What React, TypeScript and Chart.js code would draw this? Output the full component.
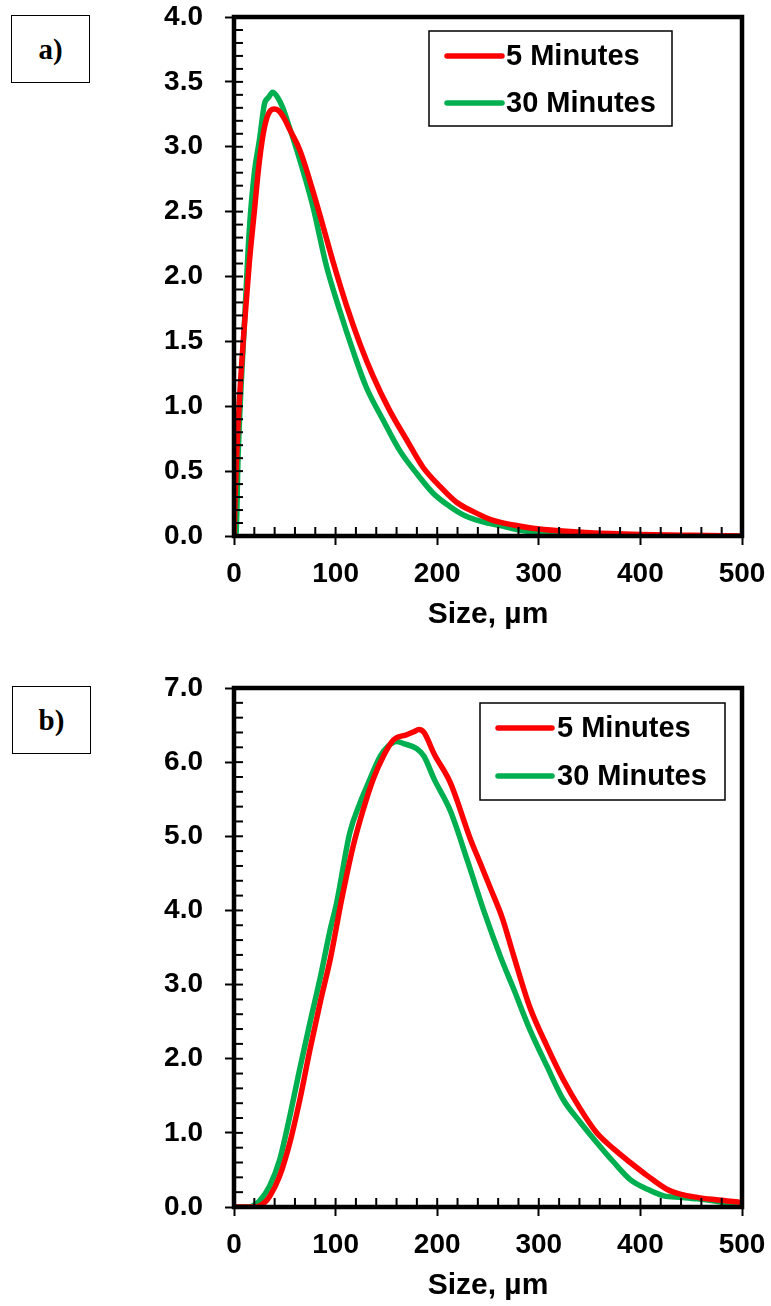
import React, { useEffect, useRef } from "react";
import { Chart, registerables } from "chart.js";

Chart.register(...registerables);

// ---------- shared text ----------
const seriesLabels = ["5 Minutes", "30 Minutes"];
const seriesColors = ["#FF0000", "#00B050"];
const axisTitle = "Size, µm";
const panelLabels = ["a)", "b)"];
const xTickMin = 0;
const xTickMax = 500;
const xTickStep = 100;

// ---------- panel a ----------
const aRedSize = [0, 2, 5, 10, 15, 20, 25, 30, 35, 40, 45, 50, 55, 65, 81, 98, 111, 124, 137, 153, 170, 186, 203, 219, 235, 255, 275, 294, 320, 350, 400, 450, 500];
const aRedValue = [0, 0.5, 1.0, 1.6, 2.1, 2.5, 2.89, 3.15, 3.27, 3.29, 3.27, 3.21, 3.13, 2.97, 2.57, 2.1, 1.77, 1.48, 1.23, 0.97, 0.74, 0.53, 0.38, 0.26, 0.19, 0.12, 0.085, 0.06, 0.04, 0.025, 0.012, 0.005, 0.0];
const aGreenSize = [0, 2, 4, 7, 10, 15, 20, 25, 30, 34, 38, 43, 48, 55, 62, 70, 78, 91, 104, 117, 130, 147, 163, 180, 196, 212, 229, 245, 262, 278, 294, 320, 350, 400, 450, 500];
const aGreenValue = [0, 0.02, 0.6, 1.16, 1.6, 2.35, 2.8, 3.05, 3.33, 3.38, 3.42, 3.38, 3.3, 3.14, 2.97, 2.76, 2.53, 2.08, 1.74, 1.43, 1.15, 0.89, 0.66, 0.48, 0.33, 0.23, 0.15, 0.11, 0.08, 0.05, 0.03, 0.015, 0.006, 0.002, 0.0, 0.0];
const aYMax = 4;
const aYStep = 0.5;
const aYMinor = 0.1;

// ---------- panel b ----------
const bRedSize = [0, 10, 20, 30, 35, 45, 55, 65, 75, 85, 95, 106, 117, 127, 137, 147, 157, 170, 177, 182, 187, 197, 213, 233, 242, 253, 264, 275, 291, 308, 324, 341, 357, 374, 390, 407, 426, 440, 456, 473, 500];
const bRedValue = [0, 0, 0, 0.06, 0.14, 0.42, 0.87, 1.46, 2.14, 2.77, 3.36, 4.15, 4.85, 5.35, 5.77, 6.08, 6.3, 6.37, 6.41, 6.44, 6.4, 6.11, 5.72, 4.95, 4.65, 4.28, 3.9, 3.4, 2.7, 2.17, 1.72, 1.32, 1.0, 0.78, 0.6, 0.42, 0.24, 0.17, 0.13, 0.1, 0.06];
const bGreenSize = [0, 5, 10, 15, 20, 25, 35, 45, 55, 65, 75, 85, 95, 101, 114, 124, 131, 144, 152, 160, 167, 180, 187, 197, 213, 230, 246, 263, 275, 291, 308, 324, 341, 357, 374, 390, 407, 423, 440, 456, 473, 490, 500];
const bGreenValue = [0, 0, 0, 0, 0.03, 0.08, 0.28, 0.64, 1.23, 1.88, 2.5, 3.1, 3.76, 4.1, 5.05, 5.45, 5.68, 6.08, 6.22, 6.28, 6.25, 6.18, 6.08, 5.77, 5.34, 4.66, 3.99, 3.35, 2.95, 2.4, 1.9, 1.45, 1.14, 0.87, 0.6, 0.37, 0.24, 0.15, 0.13, 0.11, 0.08, 0.04, 0.01];
const bYMax = 7;
const bYStep = 1;
const bYMinor = 0.2;

const FONT = '"Liberation Sans", Arial, sans-serif';
const CANVAS_W = 771;
const CANVAS_H = 653;

const toPoints = (xs: number[], ys: number[]) => xs.map((x, i) => ({ x, y: ys[i] }));

const decorPlugin = {
  id: "decor",
  afterDatasetsDraw(chart: any, _args: any, opts: any) {
    const { ctx, chartArea } = chart;
    const { left, right, top, bottom } = chartArea;
    const xs = chart.scales.x;
    const ys = chart.scales.y;
    ctx.save();
    ctx.strokeStyle = "#000";
    ctx.lineWidth = 2;
    // minor ticks (inside)
    const nx = Math.round((xs.max - xs.min) / opts.xMinor);
    for (let i = 1; i < nx; i++) {
      const v = xs.min + i * opts.xMinor;
      const px = xs.getPixelForValue(v);
      ctx.beginPath();
      ctx.moveTo(px, bottom);
      ctx.lineTo(px, bottom - 9);
      ctx.stroke();
    }
    const ny = Math.round((ys.max - ys.min) / opts.yMinor);
    for (let i = 1; i < ny; i++) {
      const v = ys.min + i * opts.yMinor;
      const py = ys.getPixelForValue(v);
      ctx.beginPath();
      ctx.moveTo(left, py);
      ctx.lineTo(left + 9, py);
      ctx.stroke();
    }
    // frame
    ctx.lineWidth = 4.5;
    ctx.strokeRect(left, top, right - left, bottom - top);

    // legend
    const lg = opts.legend;
    const bx = right - lg.rightGap - lg.width;
    const by = top + lg.topGap;
    ctx.fillStyle = "#fff";
    ctx.fillRect(bx, by, lg.width, lg.height);
    ctx.lineWidth = 1.5;
    ctx.strokeStyle = "#000";
    ctx.strokeRect(bx, by, lg.width, lg.height);
    chart.data.datasets.forEach((ds: any, i: number) => {
      const ry = by + lg.rows[i];
      ctx.strokeStyle = ds.borderColor;
      ctx.lineWidth = 5.5;
      ctx.lineCap = "round";
      ctx.beginPath();
      ctx.moveTo(bx + lg.lineStart, ry);
      ctx.lineTo(bx + lg.lineEnd, ry);
      ctx.stroke();
      ctx.fillStyle = "#000";
      ctx.font = `bold 29px ${FONT}`;
      ctx.textBaseline = "middle";
      ctx.textAlign = "left";
      ctx.fillText(ds.label, bx + lg.textStart, ry + 1);
    });
    ctx.restore();
  },
};

type PanelProps = {
  redX: number[];
  redY: number[];
  greenX: number[];
  greenY: number[];
  yMax: number;
  yStep: number;
  yMinor: number;
  padTop: number;
  xAxisHeight: number;
  titlePad: number;
  legend: any;
};

const zeroPadding = (s: any) => {
  s.paddingTop = 0;
  s.paddingBottom = 0;
  s.paddingLeft = 0;
  s.paddingRight = 0;
};

function Panel(p: PanelProps) {
  const ref = useRef<HTMLCanvasElement | null>(null);
  useEffect(() => {
    if (!ref.current) return;
    const lineDs = (i: number, xs: number[], ys: number[]) => ({
      label: seriesLabels[i],
      data: toPoints(xs, ys),
      borderColor: seriesColors[i],
      backgroundColor: seriesColors[i],
      borderWidth: 5.5,
      pointRadius: 0,
      cubicInterpolationMode: "monotone",
      borderJoinStyle: "round",
      borderCapStyle: "round",
    });
    const chart = new Chart(ref.current, {
      type: "line",
      data: {
        datasets: [lineDs(0, p.redX, p.redY), lineDs(1, p.greenX, p.greenY)],
      },
      options: {
        animation: false,
        responsive: false,
        events: [],
        layout: { padding: { top: p.padTop, right: 29, left: 0, bottom: 0 } },
        plugins: {
          legend: { display: false },
          tooltip: { enabled: false },
          decor: {
            xMinor: 20,
            yMinor: p.yMinor,
            legend: p.legend,
          },
        } as any,
        scales: {
          x: {
            type: "linear",
            min: xTickMin,
            max: xTickMax,
            border: { display: false },
            grid: {
              drawOnChartArea: false,
              drawTicks: true,
              tickLength: 9,
              tickWidth: 2,
              tickColor: "#000",
            },
            ticks: {
              stepSize: xTickStep,
              color: "#000",
              padding: 12,
              maxRotation: 0,
              font: { family: FONT, size: 28, weight: "bold" },
            },
            title: {
              display: true,
              text: axisTitle,
              color: "#000",
              font: { family: FONT, size: 30, weight: "bold" },
              padding: { top: 0, bottom: p.titlePad },
            },
            afterFit: (s: any) => {
              s.height = p.xAxisHeight;
              zeroPadding(s);
            },
          },
          y: {
            type: "linear",
            min: 0,
            max: p.yMax,
            border: { display: false },
            grid: {
              drawOnChartArea: false,
              drawTicks: true,
              tickLength: 9,
              tickWidth: 2,
              tickColor: "#000",
            },
            ticks: {
              stepSize: p.yStep,
              color: "#000",
              padding: 22,
              font: { family: FONT, size: 28, weight: "bold" },
              callback: (v: any) => Number(v).toFixed(1),
            },
            afterFit: (s: any) => {
              s.width = 234;
              zeroPadding(s);
            },
          },
        },
      },
      plugins: [decorPlugin],
    } as any);
    return () => chart.destroy();
  }, []);
  return (
    <canvas
      ref={ref}
      width={CANVAS_W}
      height={CANVAS_H}
      style={{ display: "block", width: CANVAS_W, height: CANVAS_H }}
    />
  );
}

const labelBoxStyle: React.CSSProperties = {
  position: "absolute",
  width: 77,
  height: 66,
  border: "1px solid #000",
  display: "flex",
  alignItems: "center",
  justifyContent: "center",
  font: 'bold 29px "Liberation Serif", "Times New Roman", serif',
  color: "#000",
  background: "#fff",
};

export default function App() {
  return (
    <div
      style={{
        position: "absolute",
        left: 0,
        top: 0,
        width: CANVAS_W,
        height: CANVAS_H * 2,
        background: "#fff",
        overflow: "hidden",
      }}
    >
      <div style={{ position: "absolute", left: 0, top: 0 }}>
        <Panel
          redX={aRedSize}
          redY={aRedValue}
          greenX={aGreenSize}
          greenY={aGreenValue}
          yMax={aYMax}
          yStep={aYStep}
          yMinor={aYMinor}
          padTop={17}
          xAxisHeight={117}
          titlePad={20}
          legend={{ rightGap: 70, topGap: 14, width: 243, height: 95, rows: [25, 72], lineStart: 18, lineEnd: 73, textStart: 77 }}
        />
      </div>
      <div style={{ position: "absolute", left: 0, top: CANVAS_H }}>
        <Panel
          redX={bRedSize}
          redY={bRedValue}
          greenX={bGreenSize}
          greenY={bGreenValue}
          yMax={bYMax}
          yStep={bYStep}
          yMinor={bYMinor}
          padTop={35}
          xAxisHeight={99}
          titlePad={2}
          legend={{ rightGap: 17, topGap: 15, width: 245, height: 97, rows: [25, 73], lineStart: 18, lineEnd: 72, textStart: 77 }}
        />
      </div>
      <div style={{ ...labelBoxStyle, left: 11, top: 15 }}>{panelLabels[0]}</div>
      <div style={{ ...labelBoxStyle, left: 12, top: 686 }}>{panelLabels[1]}</div>
    </div>
  );
}
